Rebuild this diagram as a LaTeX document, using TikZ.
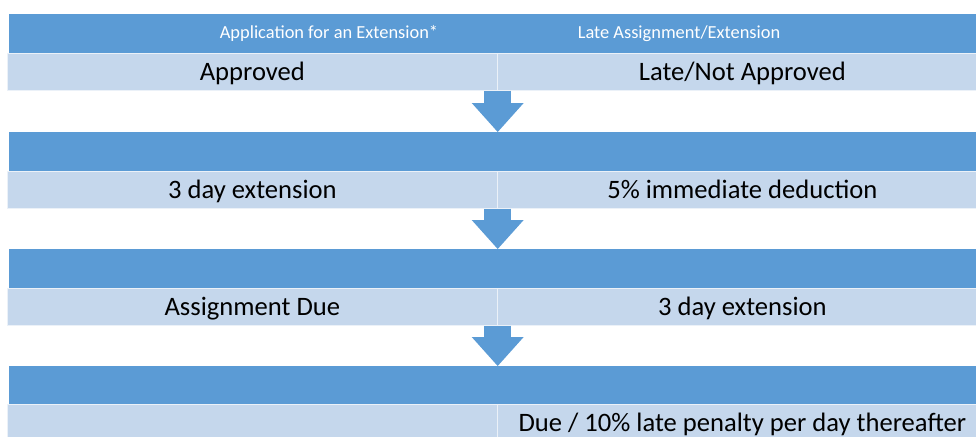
\documentclass[tikz,border=0pt]{standalone}
\usepackage{fontspec}
\setmainfont{Carlito}
\usetikzlibrary{arrows.meta,positioning}
\definecolor{hdrblue}{HTML}{5B9BD5}
\definecolor{rowblue}{HTML}{C5D7EC}

\begin{document}
\begin{tikzpicture}[x=1pt, y=-1pt,
      hdr/.style={fill=hdrblue, minimum width=980pt, minimum height=39pt,
        inner sep=0pt, anchor=north west},
      cell/.style={fill=rowblue, draw=white!65!rowblue, line width=0.7pt,
        minimum width=490pt, minimum height=37pt, inner sep=0pt,
        text height=24pt, text depth=7pt,
        anchor=north west, font=\fontsize{26.6}{30}\selectfont},
      htxt/.style={text=white, inner sep=0pt, text height=15pt, text depth=4pt,
        font=\fontsize{18.4}{22}\selectfont},
      down/.style={-{Triangle[width=52pt, length=29pt, line width=0pt]},
        line width=27pt, draw=hdrblue},
    ]
    \useasboundingbox (0,0) rectangle (976,436);
    \clip (0,0) rectangle (976,436);

    % --- band 1: the two routes ---
    \node[hdr] (h1) at (9,14) {};
    \node[htxt] (t1a) at (329,33.5) {Application for an Extension*};
    \node[htxt] (t1b) at (679,33.5) {Late Assignment/Extension};
    \node[cell] (l1) at (7,53) {Approved};
    \node[cell] (r1) at (497,53) {Late/Not Approved};

    % --- band 2 ---
    \node[hdr] (h2) at (9,132) {};
    \node[cell] (l2) at (7,171) {3 day extension};
    \node[cell] (r2) at (497,171) {5\% immediate deduction};

    % --- band 3 ---
    \node[hdr] (h3) at (9,249) {};
    \node[cell] (l3) at (7,288) {Assignment Due};
    \node[cell] (r3) at (497,288) {3 day extension};

    % --- band 4 ---
    \node[hdr] (h4) at (9,366) {};
    \node[cell] (l4) at (7,404) {};
    \node[cell] (r4) at (497,404) {Due / 10\% late penalty per day thereafter};

    % --- block arrows between the bands ---
    \draw[down] (l1.south east) -- (h2.north -| l1.south east);
    \draw[down] (l2.south east) -- (h3.north -| l2.south east);
    \draw[down] (l3.south east) -- (h4.north -| l3.south east);
  \end{tikzpicture}
\end{document}
